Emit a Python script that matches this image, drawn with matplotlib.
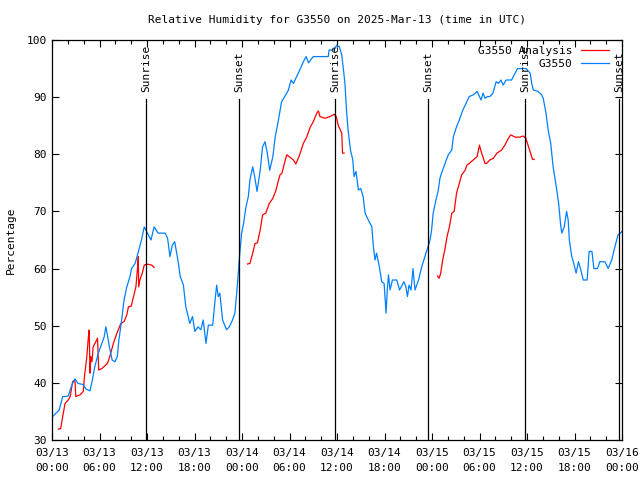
import numpy as np
import pandas as pd
import matplotlib
matplotlib.use("Agg")
import matplotlib.pyplot as plt
import matplotlib.dates as mdates
from matplotlib.ticker import MultipleLocator

plt.rcParams["font.family"] = ["DejaVu Sans Mono"]

# ============================================================
# data (hours since 2025-03-13 00:00 UTC)
# ============================================================
base = pd.Timestamp("2025-03-13 00:00")

obs_hours = [0.0, 0.5, 0.9, 1.35, 1.65, 2.05, 2.5, 2.9, 3.3, 3.95, 4.3, 4.8, 5.1, 5.4, 5.85,
             6.3, 6.6, 6.8, 7.0, 7.25, 7.6, 7.95, 8.25, 8.45, 8.8, 9.1, 9.45, 9.85, 10.05,
             10.5, 10.9, 11.3, 11.65, 11.95, 12.5, 12.9, 13.4, 14.3, 14.6, 14.9, 15.2, 15.5,
             15.9, 16.2, 16.6, 16.9, 17.1, 17.4, 17.75, 18.05, 18.45, 18.8, 19.1, 19.45,
             19.75, 20.3, 20.6, 20.8, 21.0, 21.2, 21.55, 22.05, 22.4, 22.8, 23.1, 23.4,
             23.65, 23.95, 24.2, 24.5, 24.8, 25.0, 25.35, 25.6, 25.9, 26.3, 26.6, 26.9,
             27.2, 27.5, 27.9, 28.2, 28.6, 29.0, 29.4, 29.85, 30.2, 30.5, 30.9, 31.3,
             31.75, 32.1, 32.4, 33.0, 34.9, 35.0, 35.65, 35.95, 36.3, 36.6, 37.0, 37.2,
             37.4, 37.7, 38.0, 38.15, 38.4, 38.7, 39.0, 39.3, 39.55, 39.95, 40.4, 40.6,
             40.8, 41.0, 41.35, 41.65, 41.95, 42.2, 42.35, 42.5, 42.7, 43.0, 43.55, 43.9,
             44.45, 44.7, 44.9, 45.1, 45.35, 45.6, 45.85, 46.3, 46.7, 47.1, 47.5, 47.75,
             47.95, 48.15, 48.5, 48.8, 49.0, 49.2, 49.65, 50.05, 50.5, 50.7, 51.1, 51.45,
             51.9, 52.3, 52.7, 53.2, 53.7, 54.0, 54.2, 54.45, 54.7, 55.0, 55.3, 55.7,
             56.1, 56.4, 56.7, 57.0, 57.35, 58.05, 58.5, 58.8, 59.5, 59.9, 60.4, 60.6,
             60.8, 61.4, 61.85, 62.05, 62.4, 62.7, 63.0, 63.3, 63.7, 64.0, 64.25, 64.4,
             64.7, 65.0, 65.2, 65.35, 65.65, 65.85, 66.2, 66.5, 66.8, 67.1, 67.6, 67.85,
             68.2, 68.45, 68.9, 69.2, 69.85, 70.25, 70.7, 71.1, 71.5, 71.8, 72.0]
obs_rh = [34.0, 34.7, 35.2, 37.6, 37.6, 37.7, 39.6, 40.7, 39.9, 39.7, 38.9, 38.6, 40.5, 42.8, 45.2,
          46.9, 48.1, 49.8, 48.4, 46.3, 44.0, 43.7, 44.6, 47.5, 51.0, 54.5, 56.8, 58.6, 60.0,
          60.9, 62.9, 65.0, 67.3, 66.5, 65.0, 67.3, 66.2, 66.2, 65.3, 62.1, 64.1, 64.7,
          61.5, 58.6, 57.1, 53.3, 52.2, 50.4, 51.6, 49.0, 49.8, 49.3, 51.0, 46.9,
          50.1, 50.1, 54.5, 57.1, 55.1, 55.7, 51.0, 49.3, 49.8, 51.0, 52.2, 56.8,
          61.5, 66.2, 67.9, 70.8, 72.6, 75.5, 77.8, 76.1, 73.5, 77.2, 81.3, 82.2,
          80.2, 77.2, 79.6, 83.1, 86.0, 89.2, 90.1, 91.2, 93.0, 92.4, 93.6, 94.75,
          96.2, 97.1, 96.0, 97.1, 97.1, 98.25, 98.25, 99.1, 98.8, 97.4, 92.5, 87.75,
          84.25, 80.75, 79.0, 76.1, 77.0, 73.75, 74.0, 72.6, 69.7, 68.5, 67.3, 63.8,
          61.5, 62.7, 60.3, 57.7, 57.4, 52.2, 56.25, 58.9, 56.25, 58.0, 58.0, 56.25,
          57.7, 56.8, 55.1, 57.1, 56.25, 60.0, 56.25, 58.0, 60.3, 62.1, 63.8, 65.0,
          66.75, 69.7, 72.0, 73.75, 75.8, 76.7, 78.4, 79.9, 80.75, 83.1, 84.8, 86.0,
          87.75, 88.9, 90.1, 90.4, 91.0, 90.1, 89.5, 90.7, 89.8, 90.1, 90.1, 90.7,
          92.7, 92.4, 93.0, 92.1, 93.0, 93.0, 94.2, 95.0, 95.0, 95.0, 94.2, 92.4,
          91.25, 91.0, 90.4, 89.8, 87.2, 84.0, 81.9, 77.8, 74.3, 71.4, 67.6, 66.2,
          67.3, 70.0, 68.5, 65.0, 62.1, 61.2, 59.2, 61.2, 59.75, 58.0, 58.0, 63.0,
          63.0, 60.0, 60.0, 61.2, 61.2, 60.0, 61.5, 63.8, 65.9, 66.2, 66.5]

# analysis series, NaN marks the gaps between runs
ana_hours = [0.8, 1.1, 1.35, 1.65, 2.05, 2.3, 2.6, 2.9, 3.0, 3.55, 3.95, 4.1, 4.4, 4.6, 4.7,
             4.8, 4.9, 5.05, 5.2, 5.65, 5.75, 5.9, 6.3, 7.0, 7.3, 7.75, 8.2, 8.7, 9.1, 9.45,
             9.65, 10.0, 10.3, 10.6, 10.8, 10.9, 10.95, 11.1, 11.4, 11.65, 11.95, 12.6, 12.9,
             13.0,
             24.7, 25.0, 25.35, 25.65, 25.95, 26.3, 26.6, 27.0, 27.45, 27.9, 28.3, 28.5,
             28.8, 29.05, 29.35, 29.65, 30.05, 30.5, 30.8, 31.2, 31.75, 32.2, 32.6, 33.0,
             33.45, 33.65, 33.85, 34.5, 35.1, 35.65, 35.9, 36.15, 36.6, 36.7, 36.9,
             37.0,
             48.7, 48.9, 49.1, 49.35, 49.65, 49.9, 50.2, 50.5, 50.8, 51.1, 51.45, 51.75,
             52.2, 52.4, 52.7, 53.2, 53.7, 54.0, 54.15, 54.7, 54.9, 55.3, 55.75, 56.2,
             56.8, 57.2, 57.65, 57.95, 58.5, 59.1, 59.5, 59.85, 60.2, 60.45, 60.7, 60.9]
ana_rh = [31.9, 32.0, 34.1, 36.4, 37.0, 37.6, 40.2, 40.5, 37.6, 37.9, 38.5, 41.1, 44.6, 48.1, 49.25,
          41.7, 44.6, 43.7, 46.3, 47.5, 47.8, 42.25, 42.5, 43.4, 44.6, 46.9, 48.7, 50.4, 50.7, 51.9,
          53.3, 53.4, 55.1, 56.8, 60.0, 62.1, 56.8, 58.0, 59.2, 60.6, 60.8, 60.6, 60.2,
          np.nan,
          60.8, 60.9, 62.7, 64.4, 64.5, 66.75, 69.4, 69.7, 71.4, 72.3, 73.75, 74.9,
          76.4, 76.7, 78.4, 79.9, 79.5, 79.0, 78.3, 79.6, 81.9, 83.1, 84.7, 85.7,
          87.2, 87.6, 86.6, 86.3, 86.6, 87.0, 86.6, 85.1, 83.7, 80.2, 80.2,
          np.nan,
          58.7, 58.3, 59.2, 61.5, 63.5, 65.6, 67.3, 69.7, 70.0, 73.2, 74.9, 76.4,
          77.25, 78.1, 78.4, 79.0, 79.6, 81.6, 80.75, 78.4, 78.4, 79.0, 79.3, 80.2,
          80.75, 81.6, 82.8, 83.4, 83.0, 83.0, 83.2, 82.8, 81.3, 80.2, 79.1, 79.1]

sun_hours = [11.87, 23.62, 35.75, 47.55, 59.75, 71.6]
sun_labels = ["Sunrise", "Sunset", "Sunrise", "Sunset", "Sunrise", "Sunset"]

obs_t = base + pd.to_timedelta(obs_hours, unit="h")
ana_t = base + pd.to_timedelta(ana_hours, unit="h")
sun_t = base + pd.to_timedelta(sun_hours, unit="h")

# ============================================================
# plot
# ============================================================
fig = plt.figure(figsize=(6.4, 4.8), dpi=100)
ax = fig.add_axes([52 / 640, 40 / 480, 570 / 640, 400 / 480])

ax.plot(ana_t, ana_rh, color="#ff0000", lw=0.9, label="G3550 Analysis")
ax.plot(obs_t, obs_rh, color="#0080ff", lw=0.9, label="G3550")

for t, lab in zip(sun_t, sun_labels):
    ax.plot([t, t], [30, 89.6], color="black", lw=0.9)
    ax.text(t, 90.9, lab, rotation=90, ha="center", va="bottom", fontsize=8)

ax.set_xlim(base, base + pd.Timedelta(hours=72))
ax.set_ylim(30, 100)
ax.xaxis.set_major_locator(mdates.HourLocator(byhour=[0, 6, 12, 18]))
ax.xaxis.set_minor_locator(mdates.HourLocator(byhour=range(0, 24, 2)))
ax.xaxis.set_major_formatter(mdates.DateFormatter("%m/%d\n%H:%M"))
ax.yaxis.set_major_locator(MultipleLocator(10))

ax.tick_params(which="both", direction="in", top=True, right=True, labelsize=8, width=0.8)
ax.tick_params(which="major", length=5)
ax.tick_params(which="minor", length=3)
ax.tick_params(axis="x", pad=6)
for lbl in ax.get_xticklabels():
    lbl.set_linespacing(1.6)
for s in ax.spines.values():
    s.set_linewidth(0.9)

ax.set_title("Relative Humidity for G3550 on 2025-Mar-13 (time in UTC)", fontsize=8, pad=12)
ax.set_ylabel("Percentage", fontsize=8, labelpad=8)

ax.legend(loc="upper right", bbox_to_anchor=(0.9825, 0.9925), frameon=False,
          markerfirst=False, fontsize=8, handlelength=2.5, labelspacing=0.25,
          borderaxespad=0.2, borderpad=0.1)

plt.savefig("out.png", dpi=100)
